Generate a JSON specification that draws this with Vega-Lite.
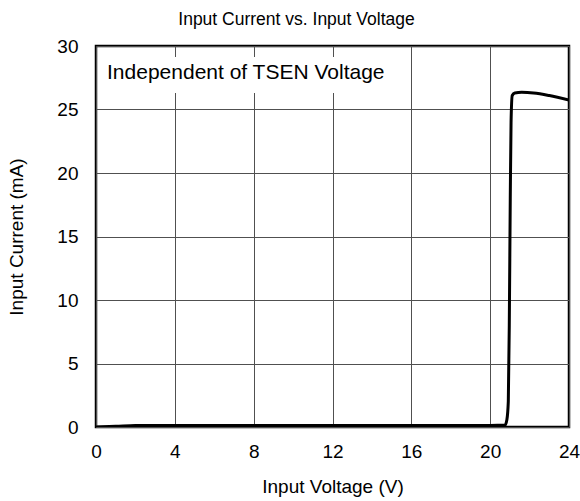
{
  "$schema": "https://vega.github.io/schema/vega-lite/v6.json",
  "width": 473,
  "height": 381,
  "autosize": {"type": "none"},
  "padding": {"left": 96, "top": 46, "right": 11, "bottom": 74},
  "background": "white",
  "config": {
    "font": "Liberation Sans",
    "view": {"stroke": "black", "strokeWidth": 2.5},
    "axis": {
      "grid": true,
      "gridColor": "#505050",
      "gridWidth": 1,
      "gridOpacity": 1,
      "domain": false,
      "ticks": false,
      "labelFlush": false,
      "labelFont": "Liberation Sans",
      "labelFontSize": 19,
      "labelColor": "black",
      "titleFont": "Liberation Sans",
      "titleFontSize": 19,
      "titleFontWeight": "normal",
      "titleColor": "black"
    }
  },
  "title": {
    "text": "Input Current vs. Input Voltage",
    "font": "Liberation Sans",
    "fontSize": 17.5,
    "fontWeight": "normal",
    "color": "black",
    "offset": 9,
    "dx": -36
  },
  "layer": [
    {
      "data": {"values": [{"x1": 0.1, "x2": 15.2, "y1": 26.3, "y2": 29.13}]},
      "mark": {"type": "rect", "fill": "white"},
      "encoding": {
        "x": {"field": "x1", "type": "quantitative", "scale": {"domain": [0, 24]},
          "axis": {"values": [0, 4, 8, 12, 16, 20, 24], "title": "Input Voltage (V)", "labelPadding": 15, "titlePadding": 16}},
        "x2": {"field": "x2"},
        "y": {"field": "y1", "type": "quantitative", "scale": {"domain": [0, 30]},
          "axis": {"values": [0, 5, 10, 15, 20, 25, 30], "title": "Input Current (mA)", "labelPadding": 18, "titlePadding": 30}},
        "y2": {"field": "y2"}
      }
    },
    {
      "data": {"values": [{"x": 0.56, "y": 27.4, "t": "Independent of TSEN Voltage"}]},
      "mark": {"type": "text", "align": "left", "baseline": "alphabetic", "fontSize": 21, "font": "Liberation Sans", "color": "black"},
      "encoding": {
        "x": {"field": "x", "type": "quantitative"},
        "y": {"field": "y", "type": "quantitative"},
        "text": {"field": "t"}
      }
    },
    {
      "data": {"values": [
        {"v": 0, "i": 0.0},
        {"v": 1, "i": 0.05},
        {"v": 2, "i": 0.12},
        {"v": 4, "i": 0.12},
        {"v": 10, "i": 0.12},
        {"v": 16, "i": 0.12},
        {"v": 20, "i": 0.12},
        {"v": 20.75, "i": 0.15},
        {"v": 20.85, "i": 0.6},
        {"v": 20.92, "i": 2.0},
        {"v": 20.97, "i": 8},
        {"v": 21.02, "i": 18},
        {"v": 21.06, "i": 24.0},
        {"v": 21.12, "i": 26.1},
        {"v": 21.25, "i": 26.3},
        {"v": 21.6, "i": 26.35},
        {"v": 22.2, "i": 26.3},
        {"v": 23, "i": 26.1},
        {"v": 24, "i": 25.75}
      ]},
      "mark": {"type": "line", "color": "black", "strokeWidth": 3, "interpolate": "monotone", "clip": true},
      "encoding": {
        "x": {"field": "v", "type": "quantitative"},
        "y": {"field": "i", "type": "quantitative"}
      }
    }
  ]
}
